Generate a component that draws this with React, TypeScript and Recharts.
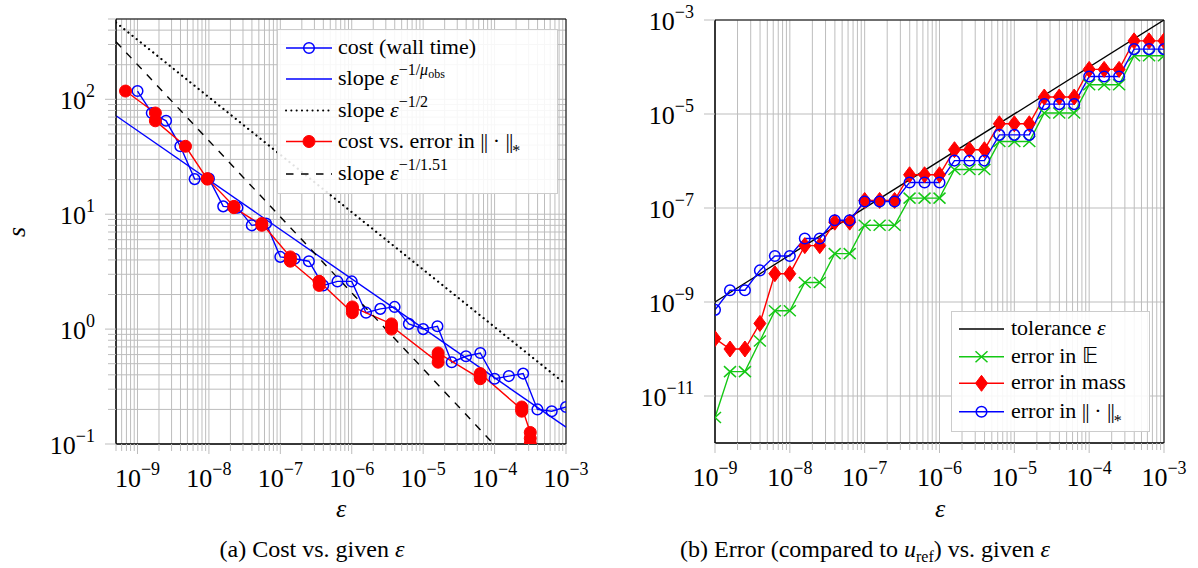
import React from "react";
import { LineChart, Line, XAxis, YAxis, CartesianGrid, Legend, ReferenceArea } from "recharts";

const FONT = '"Liberation Serif", "Times New Roman", Times, serif';
const BLUE = "#0000ff";
const RED = "#ff0000";
const GREEN = "#14c814";
const GRID = "#bdbdbd";

// tolerances eps = 10^(-9 + 0.2 k), k = 0..30
const eps = [
  1e-9, 1.585e-9, 2.512e-9, 3.981e-9, 6.31e-9,
  1e-8, 1.585e-8, 2.512e-8, 3.981e-8, 6.31e-8,
  1e-7, 1.585e-7, 2.512e-7, 3.981e-7, 6.31e-7,
  1e-6, 1.585e-6, 2.512e-6, 3.981e-6, 6.31e-6,
  1e-5, 1.585e-5, 2.512e-5, 3.981e-5, 6.31e-5,
  1e-4, 1.585e-4, 2.512e-4, 3.981e-4, 6.31e-4,
  1e-3,
];

// wall time in seconds per tolerance
const wallTime = [
  118, 76, 65, 39, 20.2, 20.4, 11.7, 11.4, 8.0, 8.3,
  4.25, 4.1, 3.9, 2.4, 2.6, 2.6, 1.39, 1.5, 1.56, 1.11,
  1.0, 1.06, 0.515, 0.58, 0.62, 0.37, 0.39, 0.41, 0.2, 0.193,
  0.21,
];

// coarser runs (eps > 1e-3), only visible through their error
const wallTimeCoarse = [0.126, 0.112, 0.101];
const errStarCoarse = [3.16e-4, 3.16e-4, 3.16e-4];

// errors compared to the reference solution
const errStar = [
  6.8e-10, 1.78e-9, 1.78e-9, 4.7e-9, 9.5e-9, 9.5e-9, 2.24e-8, 2.24e-8, 5.5e-8, 5.5e-8,
  1.38e-7, 1.38e-7, 1.38e-7, 3.5e-7, 3.5e-7, 3.5e-7, 1.02e-6, 1.02e-6, 1.02e-6, 3.6e-6,
  3.6e-6, 3.6e-6, 1.62e-5, 1.62e-5, 1.62e-5, 6.3e-5, 6.3e-5, 6.3e-5, 2.4e-4, 2.4e-4,
  2.4e-4,
];
const errMass = [
  1.66e-10, 1.0e-10, 1.0e-10, 3.5e-10, 4.0e-9, 4.0e-9, 1.58e-8, 1.58e-8, 5.0e-8, 5.0e-8,
  1.45e-7, 1.45e-7, 1.45e-7, 5.1e-7, 5.1e-7, 5.1e-7, 1.74e-6, 1.74e-6, 1.74e-6, 6.2e-6,
  6.2e-6, 6.2e-6, 2.3e-5, 2.3e-5, 2.3e-5, 8.9e-5, 8.9e-5, 8.9e-5, 3.6e-4, 3.6e-4,
  3.6e-4,
];
const errE = [
  3.5e-12, 3.3e-11, 3.3e-11, 1.48e-10, 6.5e-10, 6.5e-10, 2.6e-9, 2.6e-9, 1.07e-8, 1.07e-8,
  4.3e-8, 4.3e-8, 4.3e-8, 1.62e-7, 1.62e-7, 1.62e-7, 6.6e-7, 6.6e-7, 6.6e-7, 2.6e-6,
  2.6e-6, 2.6e-6, 1.05e-5, 1.05e-5, 1.05e-5, 4.2e-5, 4.2e-5, 4.2e-5, 1.74e-4, 1.74e-4,
  1.74e-4,
];

// reference slopes (end points)
const fitObsEps = [5e-10, 1e-3];
const fitObsCost = [72, 0.14];
const halfEps = [5e-10, 1e-3];
const halfCost = [466, 0.33];
const fit151Eps = [5e-10, 9.7e-5];
const fit151Cost = [317, 0.1];
const tolEps = [1e-9, 1e-3];
const tolVal = [1e-9, 1e-3];

const minorSteps = [2, 3, 4, 5, 6, 7, 8, 9];
const errYTicks = [1e-11, 1e-9, 1e-7, 1e-5, 1e-3];

type Pt = { x: number; y: number };
const zip = (xs: number[], ys: number[]): Pt[] => xs.map((x, i) => ({ x, y: ys[i] }));

function logTicks(lo: number, hi: number): number[] {
  const out: number[] = [];
  for (let e = Math.floor(Math.log10(lo)); e <= Math.ceil(Math.log10(hi)); e++) {
    for (const m of [1, ...minorSteps]) {
      const v = m * Math.pow(10, e);
      if (v >= lo * 0.999 && v <= hi * 1.001) out.push(v);
    }
  }
  return out;
}

const isMajor = (v: number) => Math.abs(Math.log10(v) - Math.round(Math.log10(v))) < 1e-6;
const expText = (v: number) => {
  const e = Math.round(Math.log10(v));
  return e < 0 ? `\u2212${-e}` : `${e}`;
};

function XTick(props: any) {
  const { x, y, payload } = props;
  const major = isMajor(payload.value);
  return (
    <g>
      <line x1={x} x2={x} y1={y} y2={y + (major ? 10 : 7)} stroke={GRID} />
      {major && (
        <text x={x} y={y + 43} textAnchor="middle" fontSize={26} fontFamily={FONT} fill="#000">
          10<tspan dy={-12} fontSize={18}>{expText(payload.value)}</tspan>
        </text>
      )}
    </g>
  );
}

function YTick(props: any) {
  const { x, y, payload } = props;
  const major = isMajor(payload.value);
  return (
    <g>
      <line x1={x - (major ? 11 : 8)} x2={x} y1={y} y2={y} stroke={GRID} />
      {major && (
        <text x={x - 21} y={y + 10} textAnchor="end" fontSize={26} fontFamily={FONT} fill="#000">
          10<tspan dy={-12} fontSize={18}>{expText(payload.value)}</tspan>
        </text>
      )}
    </g>
  );
}

// marker shapes
const openCircle = (cx: number, cy: number, color: string) => (
  <circle cx={cx} cy={cy} r={5.3} fill="none" stroke={color} strokeWidth={1.5} />
);
const fullCircle = (cx: number, cy: number, color: string) => (
  <circle cx={cx} cy={cy} r={6} fill={color} stroke={color} strokeWidth={1} />
);
const diamond = (cx: number, cy: number, color: string) => (
  <path d={`M${cx},${cy - 8}L${cx + 6},${cy}L${cx},${cy + 8}L${cx - 6},${cy}Z`} fill={color} stroke={color} strokeWidth={1} />
);
const cross = (cx: number, cy: number, color: string) => (
  <path d={`M${cx - 6},${cy - 5.5}L${cx + 6},${cy + 5.5}M${cx - 6},${cy + 5.5}L${cx + 6},${cy - 5.5}`} stroke={color} strokeWidth={1.5} fill="none" />
);

const dotWith = (shape: (cx: number, cy: number, c: string) => React.ReactElement, color: string) =>
  (p: any) => <g key={`m${p.index}`}>{shape(p.cx, p.cy, color)}</g>;

const DOTTED = "0.1 5.2";
const DASHED = "7.5 7.5";

// ‖ · ‖ with a lowered asterisk
const StarNorm = () => (
  <>
    <tspan letterSpacing={-1}>||</tspan> · <tspan letterSpacing={-1}>||</tspan>
    <tspan dy={8} fontSize={16}>*</tspan>
  </>
);

type RowProps = {
  y: number; x0: number; x1: number; tx: number; stroke: string; dash?: string; width?: number;
  marker?: (cx: number, cy: number, c: string) => React.ReactElement; children: React.ReactNode;
};
function Row({ y, x0, x1, tx, stroke, dash, width, marker, children }: RowProps) {
  return (
    <g>
      <line x1={x0} x2={x1} y1={y} y2={y} stroke={stroke} strokeWidth={width ?? 1.4} strokeDasharray={dash} strokeLinecap={dash === DOTTED ? "round" : "butt"} />
      {marker && marker((x0 + x1) / 2, y, stroke)}
      <text x={tx} y={y + 6} fontSize={22} fontFamily={FONT} fill="#000">{children}</text>
    </g>
  );
}

function LegendFrame({ w, h, children }: { w: number; h: number; children: React.ReactNode }) {
  return (
    <svg width={w} height={h} style={{ display: "block" }}>
      <rect x={0.5} y={0.5} width={w - 1} height={h - 1} fill="#fff" fillOpacity={0.88} stroke="#cccccc" />
      {children}
    </svg>
  );
}

function CostLegend() {
  const r = { x0: 9, x1: 55, tx: 61 };
  return (
    <LegendFrame w={281} h={165}>
      <Row y={19} {...r} stroke={BLUE} marker={openCircle}>cost (wall time)</Row>
      <Row y={50} {...r} stroke={BLUE}>
        slope <tspan fontStyle="italic">ε</tspan>
        <tspan dy={-10} fontSize={16}>−1/</tspan>
        <tspan fontSize={16} fontStyle="italic">μ</tspan>
        <tspan dy={3} fontSize={12}>obs</tspan>
      </Row>
      <Row y={81.5} {...r} stroke="#000" dash={DOTTED} width={2}>
        slope <tspan fontStyle="italic">ε</tspan>
        <tspan dy={-10} fontSize={16}>−1/2</tspan>
      </Row>
      <Row y={112.5} {...r} stroke={RED} marker={fullCircle}>
        cost vs. error in <StarNorm />
      </Row>
      <Row y={145} {...r} stroke="#000" dash={DASHED}>
        slope <tspan fontStyle="italic">ε</tspan>
        <tspan dy={-10} fontSize={16}>−1/1.51</tspan>
      </Row>
    </LegendFrame>
  );
}

function ErrorLegend() {
  const r = { x0: 8, x1: 53, tx: 60 };
  return (
    <LegendFrame w={199} h={121}>
      <Row y={18} {...r} stroke="#000">
        tolerance <tspan fontStyle="italic">ε</tspan>
      </Row>
      <Row y={45.7} {...r} stroke={GREEN} marker={cross}>error in 𝔼</Row>
      <Row y={72.3} {...r} stroke={RED} marker={diamond}>error in mass</Row>
      <Row y={100.7} {...r} stroke={BLUE} marker={openCircle}>
        error in <StarNorm />
      </Row>
    </LegendFrame>
  );
}

const axisCommon = {
  type: "number" as const,
  scale: "log" as const,
  allowDataOverflow: true,
  interval: 0 as const,
  tickLine: false,
  tickSize: 0,
  tickMargin: 0,
  axisLine: { stroke: "#000" },
};

function CostChart() {
  return (
    <LineChart width={600} height={568} margin={{ top: 19, right: 34, bottom: 84, left: 56 }}>
      <CartesianGrid stroke={GRID} />
      <XAxis {...axisCommon} dataKey="x" domain={[5e-10, 1e-3]} ticks={logTicks(5e-10, 1e-3)} tick={<XTick />} height={40} />
      <YAxis {...axisCommon} domain={[0.1, 500]} ticks={logTicks(0.1, 500)} tick={<YTick />} width={60} />
      <Line data={zip(eps, wallTime)} dataKey="y" stroke={BLUE} strokeWidth={1.4} dot={dotWith(openCircle, BLUE)} activeDot={false} isAnimationActive={false} />
      <Line data={zip(fitObsEps, fitObsCost)} dataKey="y" stroke={BLUE} strokeWidth={1.4} dot={false} activeDot={false} isAnimationActive={false} />
      <Line data={zip(halfEps, halfCost)} dataKey="y" stroke="#000" strokeWidth={2.2} strokeDasharray={DOTTED} strokeLinecap="round" dot={false} activeDot={false} isAnimationActive={false} />
      <Line data={zip([...errStar, ...errStarCoarse], [...wallTime, ...wallTimeCoarse])} dataKey="y" stroke={RED} strokeWidth={1.4} dot={dotWith(fullCircle, RED)} activeDot={false} isAnimationActive={false} />
      <Line data={zip(fit151Eps, fit151Cost)} dataKey="y" stroke="#000" strokeWidth={1.4} strokeDasharray={DASHED} dot={false} activeDot={false} isAnimationActive={false} />
      <ReferenceArea x1={5e-10} x2={1e-3} y1={0.1} y2={500} fill="none" stroke="#000" strokeWidth={1} ifOverflow="visible" />
      <Legend layout="vertical" align="center" verticalAlign="middle" wrapperStyle={{ left: 277, top: 29, width: 281, height: 165 }} content={<CostLegend />} />
    </LineChart>
  );
}

function ErrorChart() {
  return (
    <LineChart width={598} height={568} margin={{ top: 20, right: 34, bottom: 85, left: 55 }}>
      <CartesianGrid stroke={GRID} />
      <XAxis {...axisCommon} dataKey="x" domain={[1e-9, 1e-3]} ticks={logTicks(1e-9, 1e-3)} tick={<XTick />} height={40} />
      <YAxis {...axisCommon} domain={[1e-12, 1e-3]} ticks={errYTicks} tick={<YTick />} width={60} />
      <Line data={zip(tolEps, tolVal)} dataKey="y" stroke="#000" strokeWidth={1.4} dot={false} activeDot={false} isAnimationActive={false} />
      <Line data={zip(eps, errE)} dataKey="y" stroke={GREEN} strokeWidth={1.4} dot={dotWith(cross, GREEN)} activeDot={false} isAnimationActive={false} />
      <Line data={zip(eps, errMass)} dataKey="y" stroke={RED} strokeWidth={1.4} dot={dotWith(diamond, RED)} activeDot={false} isAnimationActive={false} />
      <Line data={zip(eps, errStar)} dataKey="y" stroke={BLUE} strokeWidth={1.4} dot={dotWith(openCircle, BLUE)} activeDot={false} isAnimationActive={false} />
      <ReferenceArea x1={1e-9} x2={1e-3} y1={1e-12} y2={1e-3} fill="none" stroke="#000" strokeWidth={1} ifOverflow="visible" />
      <Legend layout="vertical" align="center" verticalAlign="middle" wrapperStyle={{ left: 351, top: 311, width: 199, height: 121 }} content={<ErrorLegend />} />
    </LineChart>
  );
}

export default function App() {
  return (
    <div style={{ position: "absolute", left: 0, top: 0, width: 1198, height: 568, background: "#fff", fontFamily: FONT }}>
      <div style={{ position: "absolute", left: 0, top: 0 }}>
        <CostChart />
      </div>
      <div style={{ position: "absolute", left: 600, top: 0 }}>
        <ErrorChart />
      </div>
      <svg width={1198} height={568} style={{ position: "absolute", left: 0, top: 0, pointerEvents: "none" }}>
        <g fontFamily={FONT} fill="#000">
          <text transform="translate(25,232) rotate(-90)" textAnchor="middle" fontSize={26} fontStyle="italic">s</text>
          <text x={341} y={517} textAnchor="middle" fontSize={26} fontStyle="italic">ε</text>
          <text x={940} y={517} textAnchor="middle" fontSize={26} fontStyle="italic">ε</text>
          <text x={312} y={557} textAnchor="middle" fontSize={24}>
            (a) Cost vs. given <tspan fontStyle="italic">ε</tspan>
          </text>
          <text x={865} y={557} textAnchor="middle" fontSize={24}>
            (b) Error (compared to <tspan fontStyle="italic">u</tspan>
            <tspan dy={5} fontSize={16}>ref</tspan>
            <tspan dy={-5}>) vs. given </tspan>
            <tspan fontStyle="italic">ε</tspan>
          </text>
        </g>
      </svg>
    </div>
  );
}
